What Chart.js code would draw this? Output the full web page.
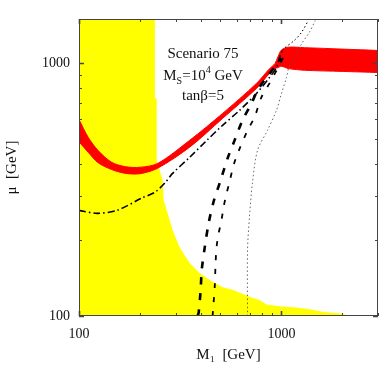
<!DOCTYPE html>
<html>
<head>
<meta charset="utf-8">
<script src="https://cdn.jsdelivr.net/npm/chart.js@4/dist/chart.umd.min.js"></script>
<style>
  body { margin: 0; background: #fff; }
  #wrap { width: 383px; height: 382px; }
</style>
</head>
<body>
<div id="wrap"><canvas id="plot"></canvas></div>
<script>
// excluded region (yellow), upper edge
const yellowM1 = [100, 237, 237, 242, 242, 259, 262, 274, 290, 314, 352, 394, 442, 512, 574, 700, 780, 843, 1000, 1186, 1400, 1592, 2000, 2163];
const yellowMu = [1500, 1500, 728, 728, 414, 345, 287, 255, 219, 187, 162, 148, 139, 130, 127, 119, 115.6, 111, 109, 108, 106, 104, 102, 100];

// relic density band (red)
const redM1    = [100, 111, 124, 145, 170, 200, 245, 352, 512, 753, 870, 930, 960, 1000, 1080, 1300, 2000, 3000];
const redUpper = [600, 510, 453, 406, 390, 388, 402, 496, 634, 834, 950, 1000, 1060, 1130, 1160, 1155, 1140, 1126];
const redLower = [490, 445, 405, 380, 367, 366, 385, 466, 606, 796, 910, 955, 962, 975, 955, 940, 930, 921];

// dashed contours
const dashAM1 = [385, 390, 399, 404, 418, 437, 462, 501, 542, 587, 642, 711, 762, 843, 924, 1000];
const dashAMu = [100, 103, 127, 152, 187, 233, 283, 345, 421, 496, 595, 695, 782, 880, 964, 1047];
const dashBM1 = [457, 462, 468, 473, 478, 490, 506, 518, 536, 554, 580, 614, 680, 736, 796, 873, 945, 1034];
const dashBMu = [100, 112, 129, 162, 187, 213, 240, 270, 306, 339, 395, 449, 543, 612, 734, 834, 938, 1076];
const dashDotM1 = [100, 123, 154, 204, 237, 265, 290, 352, 428, 512, 621, 753, 873, 945, 1012, 1158, 1255, 1358];
const dashDotMu = [262, 255, 262, 293, 309, 336, 367, 425, 496, 569, 652, 761, 880, 964, 1126, 1233, 1326, 1479];
const dotM1 = [680, 680, 695, 719, 762, 853, 945, 1000, 1059, 1095, 1186, 1269, 1373, 1469];
const dotMu = [100, 182, 246, 336, 453, 543, 652, 760, 880, 982, 1095, 1210, 1326, 1479];

// axis ticks
const xTickLabels = [100, 1000];
const yTickLabels = [100, 1000];
const xMinorTicks = [200, 300, 400, 500, 600, 700, 800, 900, 2000, 3000];
const yMinorTicks = [200, 300, 400, 500, 600, 700, 800, 900];

const pts = (xs, ys) => xs.map((x, i) => ({ x: x, y: ys[i] }));
const serif = '"Liberation Serif", "DejaVu Serif", serif';

const frameTicks = {
  id: 'frameTicks',
  afterDraw(chart) {
    const { ctx, chartArea: a, scales: { x, y } } = chart;
    ctx.save();
    ctx.strokeStyle = '#444';
    ctx.lineWidth = 1;
    ctx.strokeRect(a.left + 0.5, a.top + 0.5, a.right - a.left - 1, a.bottom - a.top - 1);
    const xt = (vals, len, lw) => {
      ctx.lineWidth = lw;
      vals.forEach(v => {
        const px = Math.round(x.getPixelForValue(v)) + 0.5;
        ctx.beginPath();
        ctx.moveTo(px, a.bottom); ctx.lineTo(px, a.bottom - len);
        ctx.moveTo(px, a.top); ctx.lineTo(px, a.top + len);
        ctx.stroke();
      });
    };
    const yt = (vals, len, lw) => {
      ctx.lineWidth = lw;
      vals.forEach(v => {
        const py = Math.round(y.getPixelForValue(v)) + 0.5;
        ctx.beginPath();
        ctx.moveTo(a.left, py); ctx.lineTo(a.left + len, py);
        ctx.moveTo(a.right, py); ctx.lineTo(a.right - len, py);
        ctx.stroke();
      });
    };
    xt(xMinorTicks, 3, 1);
    xt(xTickLabels, 5, 1.6);
    yt(yMinorTicks, 3, 1);
    yt(yTickLabels, 5, 1.6);
    ctx.restore();
  }
};

const scenarioText = {
  id: 'scenarioText',
  afterDatasetsDraw(chart) {
    const ctx = chart.ctx;
    const big = '15px ' + serif, small = '10px ' + serif;
    const cx = 203;
    ctx.save();
    ctx.fillStyle = '#111';
    ctx.textBaseline = 'alphabetic';
    ctx.font = big;
    ctx.textAlign = 'center';
    ctx.fillText('Scenario 75', cx, 58);
    ctx.fillText('tan\u03b2=5', cx, 100);
    // M_S=10^4 GeV
    ctx.textAlign = 'left';
    const parts = [['M', big, 0], ['S', small, 4], ['=10', big, 0], ['4', small, -7], [' GeV', big, 0]];
    let w = 0;
    parts.forEach(p => { ctx.font = p[1]; w += ctx.measureText(p[0]).width; });
    let px = cx - w / 2;
    parts.forEach(p => {
      ctx.font = p[1];
      ctx.fillText(p[0], px, 80 + p[2]);
      px += ctx.measureText(p[0]).width;
    });
    ctx.restore();
  }
};

const line = (data, color, width, dash, extra) => Object.assign({
  data: data, showLine: true, pointRadius: 0, borderColor: color,
  borderWidth: width, borderDash: dash, fill: false, order: 1, tension: 0.3
}, extra || {});

new Chart(document.getElementById('plot').getContext('2d'), {
  type: 'scatter',
  data: {
    datasets: [
      line(pts(yellowM1, yellowMu), '#ffff00', 0, [], { fill: 'start', backgroundColor: '#ffff00', order: 3, tension: 0 }),
      line(pts(redM1, redUpper), '#ff0000', 1, [], { fill: '+1', backgroundColor: '#ff0000', order: 2 }),
      line(pts(redM1, redLower), '#ff0000', 1, [], { order: 2 }),
      line(pts(dashAM1, dashAMu), '#000', 2.6, [7, 9]),
      line(pts(dashBM1, dashBMu), '#000', 1.8, [5, 9]),
      line(pts(dashDotM1, dashDotMu), '#000', 1.6, [7, 3, 1.5, 3], {
        segment: {
          borderDash: c => c.p0DataIndex >= 14 ? [1.5, 2.5] : undefined,
          borderWidth: c => c.p0DataIndex >= 14 ? 1 : undefined
        }
      }),
      line(pts(dotM1, dotMu), '#555', 0.9, [1.5, 2.5])
    ]
  },
  options: {
    responsive: true,
    maintainAspectRatio: false,
    animation: false,
    layout: { padding: { top: 19, right: 5, left: 0, bottom: 0 } },
    plugins: { legend: { display: false }, tooltip: { enabled: false } },
    scales: {
      x: {
        type: 'logarithmic', min: 100, max: 3000,
        afterBuildTicks: s => { s.ticks = xTickLabels.map(v => ({ value: v })); },
        afterFit: s => { s.height = 66; },
        grid: { display: false, drawTicks: false },
        border: { display: false },
        ticks: { autoSkip: false, maxRotation: 0, padding: 10, color: '#111',
                 font: { family: serif, size: 14 }, callback: v => String(v) },
        title: { display: true, text: 'M\u2081  [GeV]', color: '#111',
                 font: { family: serif, size: 15 }, padding: { top: 0, bottom: 18 } }
      },
      y: {
        type: 'logarithmic', min: 100, max: 1500,
        afterBuildTicks: s => { s.ticks = yTickLabels.map(v => ({ value: v })); },
        afterFit: s => { s.width = 79; },
        grid: { display: false, drawTicks: false },
        border: { display: false },
        ticks: { autoSkip: false, padding: 9, color: '#111',
                 font: { family: serif, size: 14 }, callback: v => String(v) },
        title: { display: true, text: '\u03bc  [GeV]', color: '#111',
                 font: { family: serif, size: 15 }, padding: { top: 3, bottom: 0 } }
      }
    }
  },
  plugins: [frameTicks, scenarioText]
});
</script>
</body>
</html>
